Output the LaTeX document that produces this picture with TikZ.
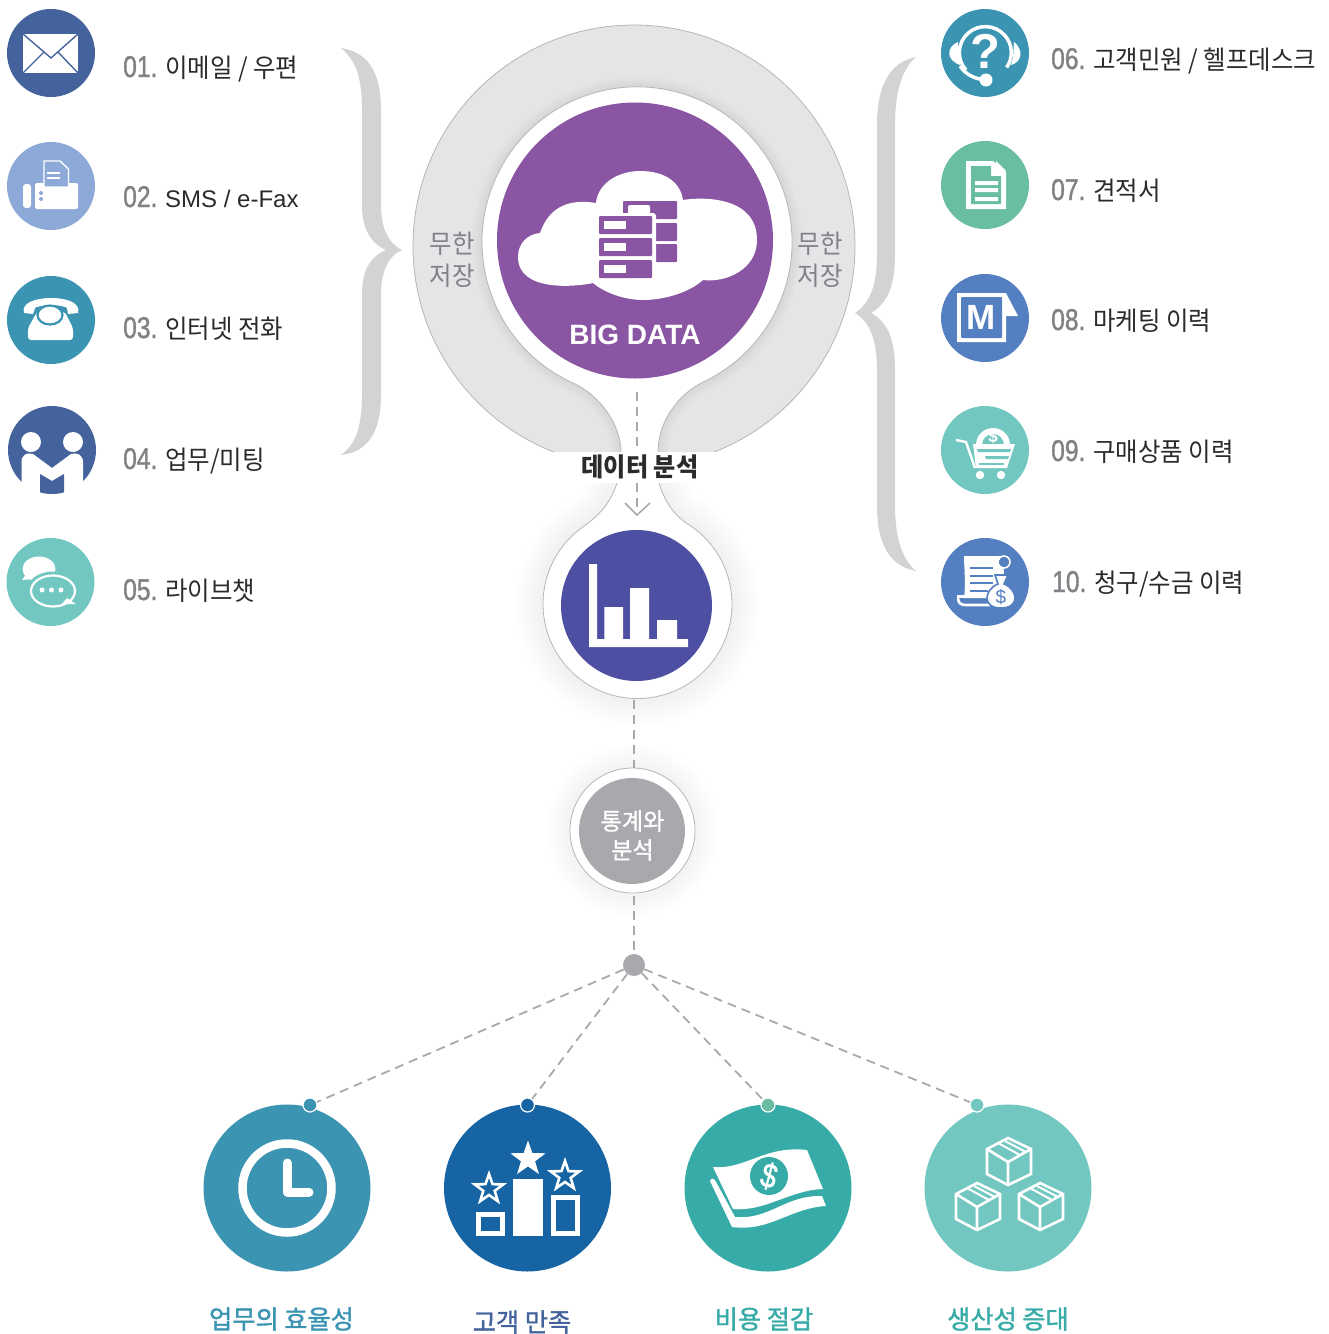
\documentclass[tikz,border=0pt]{standalone}
\usepackage{fontspec}
\usetikzlibrary{shapes.geometric,arrows.meta}
\setmainfont{Liberation Sans}
\newfontfamily\kr[FakeStretch=0.94]{Noto Sans CJK KR}
\newfontfamily\krm[FakeStretch=0.98,FakeBold=1.3]{Noto Sans CJK KR}
\newfontfamily\din[FakeStretch=0.82,FakeBold=1.3]{Liberation Sans}
\newcommand{\fsz}[1]{\fontsize{#1}{#1}\selectfont}
\definecolor{navy}{HTML}{44639C}
\definecolor{sky}{HTML}{8CA9D8}
\definecolor{teal1}{HTML}{3A94B2}
\definecolor{mint}{HTML}{72C7C1}
\definecolor{green1}{HTML}{68BDA2}
\definecolor{blue1}{HTML}{547FC1}
\definecolor{deep}{HTML}{1664A3}
\definecolor{sea}{HTML}{37ABA7}
\definecolor{purp}{HTML}{8A55A2}
\definecolor{indigo}{HTML}{4C4FA2}
\definecolor{gray1}{HTML}{A7A9AC}
\definecolor{ring}{HTML}{E4E5E7}
\definecolor{brace}{HTML}{D1D3D4}
\definecolor{edge}{HTML}{B5B6B8}
\definecolor{numgray}{HTML}{808285}
\definecolor{ink}{HTML}{2B2B2B}
\tikzset{
  x=1pt,y=-1pt,
  disc/.style={circle,inner sep=0pt,minimum size=#1,draw=none},
  lbl/.style={anchor=base west,inner sep=0pt,text=ink},
  ring label/.style={inner sep=0pt,text=numgray,align=center,font=\kr\fsz{26}},
  goal/.style={inner sep=0pt,font=\krm\fsz{25.7}},
  dashline/.style={draw=gray1,line width=1.8pt,dash pattern=on 9pt off 6pt},
  smalldot/.style={circle,inner sep=0pt,minimum size=14pt,draw=white,line width=1.2pt},
}
\newcommand{\rowtext}[5]{\node[lbl] (#1) at (#2,#3) {\makebox[42pt][l]{\din\fsz{30}\textcolor{numgray}{#4}}\kr\fsz{26}#5};}
\def\upperneck{(621,452) .. controls (621,425) and (600,395) .. (573,383) arc[start angle=245.6,end angle=-64.6,radius=155pt] .. controls (680,393) and (658,420) .. (658,452)}
\def\lowerneck{(617,483) .. controls (610,505) and (597,517) .. (582.5,527.2) arc[start angle=125.6,end angle=419,radius=94.5pt] .. controls (675,515) and (665,503) .. (659,483)}
\newcommand{\cubeicon}[2]{\begin{scope}[shift={(#1,#2)},draw=white,line width=2.6pt,line join=miter]
\draw (1008,1138)--(1031,1149)--(1031,1174)--(1008,1185)--(987,1174)--(987,1149)--cycle;
\draw (987,1149)--(1008,1162)--(1031,1149) (1008,1162)--(1008,1185);
\draw[line width=2pt] (998,1143)--(1020,1155) (1005,1141)--(1026,1152);
\end{scope}}
\begin{document}
\begin{tikzpicture}
\useasboundingbox (0,0) rectangle (1329,1334);
% ---------- braces
\fill[brace] (341,48) .. controls (368,52) and (381,72) .. (381,110) -- (381,205) .. controls (381,228) and (388,243) .. (402,250) .. controls (388,256) and (381,272) .. (381,295) -- (381,395) .. controls (381,432) and (368,452) .. (341,455) .. controls (355,445) and (362,428) .. (362,395) -- (362,295) .. controls (362,270) and (370,257) .. (386,250) .. controls (370,243) and (362,228) .. (362,205) -- (362,110) .. controls (362,75) and (355,60) .. (341,48) -- cycle;
\fill[brace] (916,57) .. controls (890,62) and (877,85) .. (877,125) -- (877,255) .. controls (877,285) and (870,303) .. (855,313) .. controls (870,322) and (877,340) .. (877,370) -- (877,505) .. controls (877,545) and (890,566) .. (916,571) .. controls (903,560) and (895,540) .. (895,505) -- (895,370) .. controls (895,340) and (888,322) .. (871,313) .. controls (888,303) and (895,285) .. (895,255) -- (895,125) .. controls (895,90) and (903,68) .. (916,57) -- cycle;
% ---------- gray ring
\begin{scope}
\clip (400,0) rectangle (870,452);
\path[fill=ring,draw=edge,line width=.8pt] (634,246) circle[radius=221pt];
\clip (634,246) circle[radius=220.5pt];
\foreach \w in {3,6,...,21}{\draw[black,opacity=.008,line width=\w pt] \upperneck;}
\end{scope}
% ---------- lower shadow
\begin{scope}
\clip (480,483) rectangle (800,760);
\foreach \w in {4,8,...,56}{\draw[black,opacity=.005,line width=\w pt] \lowerneck;}
\end{scope}
\foreach \w in {4,8,...,48}{\draw[black,opacity=.005,line width=\w pt] (632.5,830.5) circle[radius=62.5pt];}
% ---------- white shapes
\path[fill=white,draw=edge,line width=.8pt] \upperneck;
\path[fill=white,draw=edge,line width=.8pt] \lowerneck;
\fill[white] (621,452) rectangle (658,483);
% ---------- center discs
\node[disc=276pt,fill=purp] (bigdata) at (635,240.5) {};
\node[disc=151pt,fill=indigo] (chart) at (636.5,605.5) {};
\coordinate (arrowfrom) at (637,392);
\coordinate (arrowto) at (637,515);
\draw[dashline] (arrowfrom) -- (637,452);
\draw[dashline] (637,483) -- (637,510);
\draw[gray1,line width=1.5pt] (625,503) -- (637,515) -- (650,503);
% ---------- band and texts
\fill[white] (545,452) rectangle (730,483);
\node[inner sep=0pt,text=ink,font=\kr\bfseries\fsz{25.7}] (analysis) at (640,467) {데이터 분석};
\node[ring label] (infL1) at (452,244) {무한};
\node[ring label] (infL2) at (452,276) {저장};
\node[ring label] (infR1) at (820,244) {무한};
\node[ring label] (infR2) at (820,276) {저장};
% ---------- cloud
\fill[white] (540,233) .. controls (548,210) and (565,198) .. (596,203) .. controls (598,182) and (620,171) .. (640,171) .. controls (662,171) and (680,180) .. (683,200) .. controls (700,197) and (757,195) .. (757,240) .. controls (757,270) and (725,283) .. (703,280) .. controls (690,292) and (665,300) .. (643,300) .. controls (625,300) and (605,293) .. (593,283) .. controls (575,287) and (518,292) .. (518,257) .. controls (518,243) and (528,234) .. (540,233) -- cycle;
\fill[purp,rounded corners=1pt] (623,201) rectangle (677,219);
\fill[purp,rounded corners=1pt] (640,223) rectangle (677,241);
\fill[purp,rounded corners=1pt] (640,244) rectangle (677,262);
\fill[white,rounded corners=2pt] (628,205) rectangle (650,216);
\fill[white,rounded corners=3pt] (596,213) rectangle (656,282);
\foreach \a/\b in {216/234,238/256,260/278}{
  \fill[purp,rounded corners=1pt] (599,\a) rectangle (652,\b);
  \fill[white] (604,\a+5) rectangle (626,\b-5);
}
\node[inner sep=0pt,text=white,font=\bfseries\fsz{28}] (bigtext) at (635,335) {BIG DATA};
% ---------- bar chart
\fill[white] (589,564) rectangle (597,647) (589,639) rectangle (688,647) (604.3,607) rectangle (623,640) (630,588) rectangle (649,640) (657,620) rectangle (677,640);
% ---------- statistics
\node[circle,inner sep=0pt,minimum size=125pt,fill=white,draw=edge,line width=.8pt] (statring) at (632.5,830.5) {};
\node[disc=106pt,fill=gray1] (stat) at (632,831) {};
\node[inner sep=0pt,text=white,font=\krm\fsz{23.5}] (statA) at (632.5,821) {통계와};
\node[inner sep=0pt,text=white,font=\krm\fsz{23.5}] (statB) at (632.5,850) {분석};
\node[disc=22pt,fill=gray1] (hub) at (634,965) {};
\coordinate (c1) at (634,700);
\coordinate (c2) at (634,768);
\coordinate (c3) at (634,896);
\draw[dashline] (c1) -- (c2);
\draw[dashline] (c3) -- (hub);
% ---------- bottom discs
\node[disc=167pt,fill=teal1] (g1) at (287,1188) {};
\node[disc=167pt,fill=deep] (g2) at (527.5,1188) {};
\node[disc=167pt,fill=sea] (g3) at (768,1188) {};
\node[disc=167pt,fill=mint] (g4) at (1008,1188) {};
\node[smalldot,fill=teal1] (d1) at (310,1105) {};
\node[smalldot,fill=deep] (d2) at (527.5,1105) {};
\node[smalldot,fill=green1] (d3) at (768,1105) {};
\node[smalldot,fill=mint] (d4) at (977,1105) {};
\foreach \n in {d1,d2,d3,d4}{\draw[dashline] (hub) -- (\n);}
\node[goal,text=teal1] (l1) at (281.5,1319) {업무의 효율성};
\node[goal,text=navy] (l2) at (522,1322) {고객 만족};
\node[goal,text=sea] (l3) at (764,1319) {비용 절감};
\node[goal,text=sea] (l4) at (1008,1319) {생산성 증대};
% clock
\draw[white,line width=8.5pt] (287,1188) circle[radius=44.5pt];
\draw[white,line width=9pt,line cap=round,line join=round] (287,1163) -- (287,1192) -- (309,1192);
% podium
\fill[white] (513,1179) rectangle (543,1236);
\draw[white,line width=5pt] (478.5,1214.5) rectangle (502.5,1233.5) (553.5,1197.5) rectangle (577.5,1233.5);
\node[star,star points=5,star point ratio=2.5,inner sep=0pt,minimum size=37pt,fill=white] (s1) at (528,1159) {};
\node[star,star points=5,star point ratio=2.5,inner sep=0pt,minimum size=30pt,draw=white,line width=2.6pt] (s2) at (489,1189) {};
\node[star,star points=5,star point ratio=2.5,inner sep=0pt,minimum size=30pt,draw=white,line width=2.6pt] (s3) at (565,1176) {};
% money
\fill[white] (713,1167) .. controls (745,1170) and (765,1145) .. (807,1150) -- (823,1189) .. controls (790,1190) and (765,1212) .. (733,1209) -- cycle;
\fill[white] (710,1181) .. controls (711,1178) and (714,1178) .. (715,1180) -- (735,1217) .. controls (770,1220) and (785,1195) .. (822,1196) -- (826,1206) .. controls (790,1208) and (770,1232) .. (732,1227) -- cycle;
\node[disc=38pt,fill=sea] (coin) at (769,1176) {};
\node[inner sep=0pt,text=white,rotate=-15,font=\din\fsz{34}] (dollar) at (769,1176) {\$};
% cubes
\cubeicon{0}{0}
\cubeicon{-31}{45}
\cubeicon{32}{45}
% ---------- left column
\node[disc=88pt,fill=navy] (i1) at (51,53) {};
\fill[white] (23,34) rectangle (78,73);
\draw[navy,line width=1.4pt] (23,34) -- (51,58) -- (78,34) (23,73) -- (44,52) (78,73) -- (58,52);
\node[disc=88pt,fill=sky] (i2) at (51,186) {};
\fill[white,rounded corners=2pt] (35,183) rectangle (78,209);
\fill[white,rounded corners=3pt] (23,184) rectangle (31,208);
\fill[sky] (41,193) circle[radius=2pt] (41,199) circle[radius=2pt];
\path[fill=sky,draw=white,line width=1.4pt] (44,161) -- (60,161) -- (68.5,169) -- (68.5,187) -- (44,187) -- cycle;
\draw[white,line width=1.2pt] (47,173) -- (60,173) (47,178) -- (60,178);
\node[disc=88pt,fill=teal1] (i3) at (51,320) {};
\fill[white] (24,313) .. controls (21,303) and (35,298) .. (51,298) .. controls (67,298) and (81,303) .. (78,313) -- (68,314) -- (67,308) .. controls (60,304) and (42,304) .. (35,308) -- (33,314) -- cycle;
\fill[white,rounded corners=3pt] (37,312) -- (65,312) -- (73,328) -- (73,340) -- (28,340) -- (28,328) -- cycle;
\draw[teal1,line width=2.2pt,fill=white] (50,315) ellipse[x radius=12.5pt,y radius=9.5pt];
\draw[teal1,line width=3pt] (37,307) -- (37,312) (64,307) -- (64,312);
\node[disc=88pt,fill=navy] (i4) at (52,450) {};
\fill[white] (31,442) circle[radius=10pt] (73,442) circle[radius=10pt];
\fill[white] (21.5,500) -- (21.5,462) .. controls (21.5,455) and (27,452) .. (33,454) -- (52,468) -- (71,454) .. controls (77,452) and (83,455) .. (83,462) -- (83,500) -- cycle;
\begin{scope}
\clip (52,450) circle[radius=44pt];
\fill[navy] (40,474) -- (52,481) -- (64,474) -- (64,500) -- (40,500) -- cycle;
\end{scope}
\node[disc=88pt,fill=mint] (i5) at (50.5,582) {};
\fill[white] (39,569) ellipse[x radius=16.5pt,y radius=12.5pt];
\fill[white] (27,573) -- (22,580) -- (33,579) -- cycle;
\draw[mint,fill=mint,line width=1pt] (53,591) ellipse[x radius=26pt,y radius=19pt];
\draw[white,line width=2.2pt] (53,591) ellipse[x radius=22pt,y radius=15.5pt];
\fill[white] (62,604) -- (76,604) -- (67,598) -- cycle;
\fill[white] (42,590) circle[radius=2.5pt] (51.5,590) circle[radius=2.5pt] (61,590) circle[radius=2.5pt];
\rowtext{t1}{123}{77}{01.}{이메일 / 우편}
\node[lbl] (t2) at (123,207) {\makebox[42pt][l]{\din\fsz{30}\textcolor{numgray}{02.}}\fsz{24}SMS / e-Fax};
\rowtext{t3}{123}{338}{03.}{인터넷 전화}
\rowtext{t4}{123}{469}{04.}{업무/미팅}
\rowtext{t5}{123}{600}{05.}{라이브챗}
% ---------- right column
\node[disc=88pt,fill=teal1] (j1) at (985,53) {};
\draw[white,line width=3.5pt] (966,70) arc[start angle=222,end angle=-35,radius=26pt];
\draw[white,line width=3.5pt] (960,66) .. controls (966,75) and (975,79) .. (986,80);
\fill[white] (986,80) circle[radius=6.5pt];
\fill[white] (958,42) .. controls (946,47) and (946,60) .. (960,65) -- cycle;
\fill[white] (1011,65) .. controls (1022,62) and (1024,50) .. (1014,42) -- (1013,58) -- cycle;
\node[inner sep=0pt,text=white,font=\bfseries\fsz{49}] (qm) at (985,51) {?};
\node[disc=88pt,fill=green1] (j2) at (985,185) {};
\fill[white] (966,161) -- (993,161) -- (1006,172) -- (1006,209) -- (966,209) -- cycle;
\fill[green1] (971,166) -- (991,166) -- (991,176) -- (1001,176) -- (1001,204) -- (971,204) -- cycle;
\fill[white] (996,161) -- (1006,171) -- (996,171) -- cycle;
\fill[white] (975,181) rectangle (998,185) (975,188) rectangle (998,192) (975,197) rectangle (998,201);
\node[disc=88pt,fill=blue1] (j3) at (985,318) {};
\fill[white] (957,293) -- (1006,293) -- (1018,316) -- (1006,316) -- (1006,342) -- (957,342) -- cycle;
\fill[blue1,rounded corners=1pt] (961,297) rectangle (1002,338);
\node[inner sep=0pt,text=white,font=\bfseries\fsz{35}] (mm) at (981.5,317) {M};
\node[disc=88pt,fill=mint] (j4) at (985,450) {};
\fill[white] (976,445) arc[start angle=180,end angle=0,radius=17pt] -- cycle;
\fill[mint] (982,445) arc[start angle=180,end angle=0,radius=11pt] -- cycle;
\node[inner sep=0pt,text=white,font=\bfseries\fsz{17}] (cent) at (993,437) {\$};
\fill[white] (973,444) -- (1015,444) -- (1007,468) -- (976,468) -- cycle;
\fill[mint] (977,449) -- (1011,449) -- (1010,452) -- (978,452) -- cycle;
\fill[mint] (985,456) -- (1009,456) -- (1008,459) -- (986,459) -- cycle;
\fill[mint] (979,463) -- (1004,463) -- (1004,465) -- (979,465) -- cycle;
\draw[white,line width=2.4pt] (956,440) -- (966,442) -- (975,468);
\fill[white] (980,475) circle[radius=4.2pt] (1001,475) circle[radius=4.2pt];
\node[disc=88pt,fill=blue1] (j5) at (985,582) {};
\fill[white] (964,598) .. controls (966,585) and (964,565) .. (964,556) -- (1003,556) -- (1004,575) -- (990,598) -- cycle;
\fill[white] (957,595) rectangle (966,598);
\draw[white,line width=2.6pt] (958,598) .. controls (958,604) and (962,605) .. (966,605) -- (990,605);
\draw[blue1,line width=1.6pt] (970,568) -- (993,568) (970,576) -- (993,576) (970,583) -- (993,583) (970,591) -- (988,591);
\draw[blue1,fill=blue1,line width=1pt] (1004,562) circle[radius=5pt];
\draw[white,line width=1.6pt] (1004,562) circle[radius=6pt];
\path[fill=white,draw=blue1,line width=1.6pt] (995,575) -- (1008,575) -- (1004,584) .. controls (1012,587) and (1015,594) .. (1015,598) .. controls (1015,604) and (1010,608) .. (1001,608) .. controls (992,608) and (987,604) .. (987,598) .. controls (987,594) and (990,587) .. (998,584) -- cycle;
\node[inner sep=0pt,text=blue1,font=\fsz{19}] (usd) at (1001,597) {\$};
\rowtext{u1}{1051}{69}{06.}{고객민원 / 헬프데스크}
\rowtext{u2}{1051}{200}{07.}{견적서}
\rowtext{u3}{1051}{330}{08.}{마케팅 이력}
\rowtext{u4}{1051}{461}{09.}{구매상품 이력}
\rowtext{u5}{1052}{592}{10.}{청구/수금 이력}
\end{tikzpicture}
\end{document}
